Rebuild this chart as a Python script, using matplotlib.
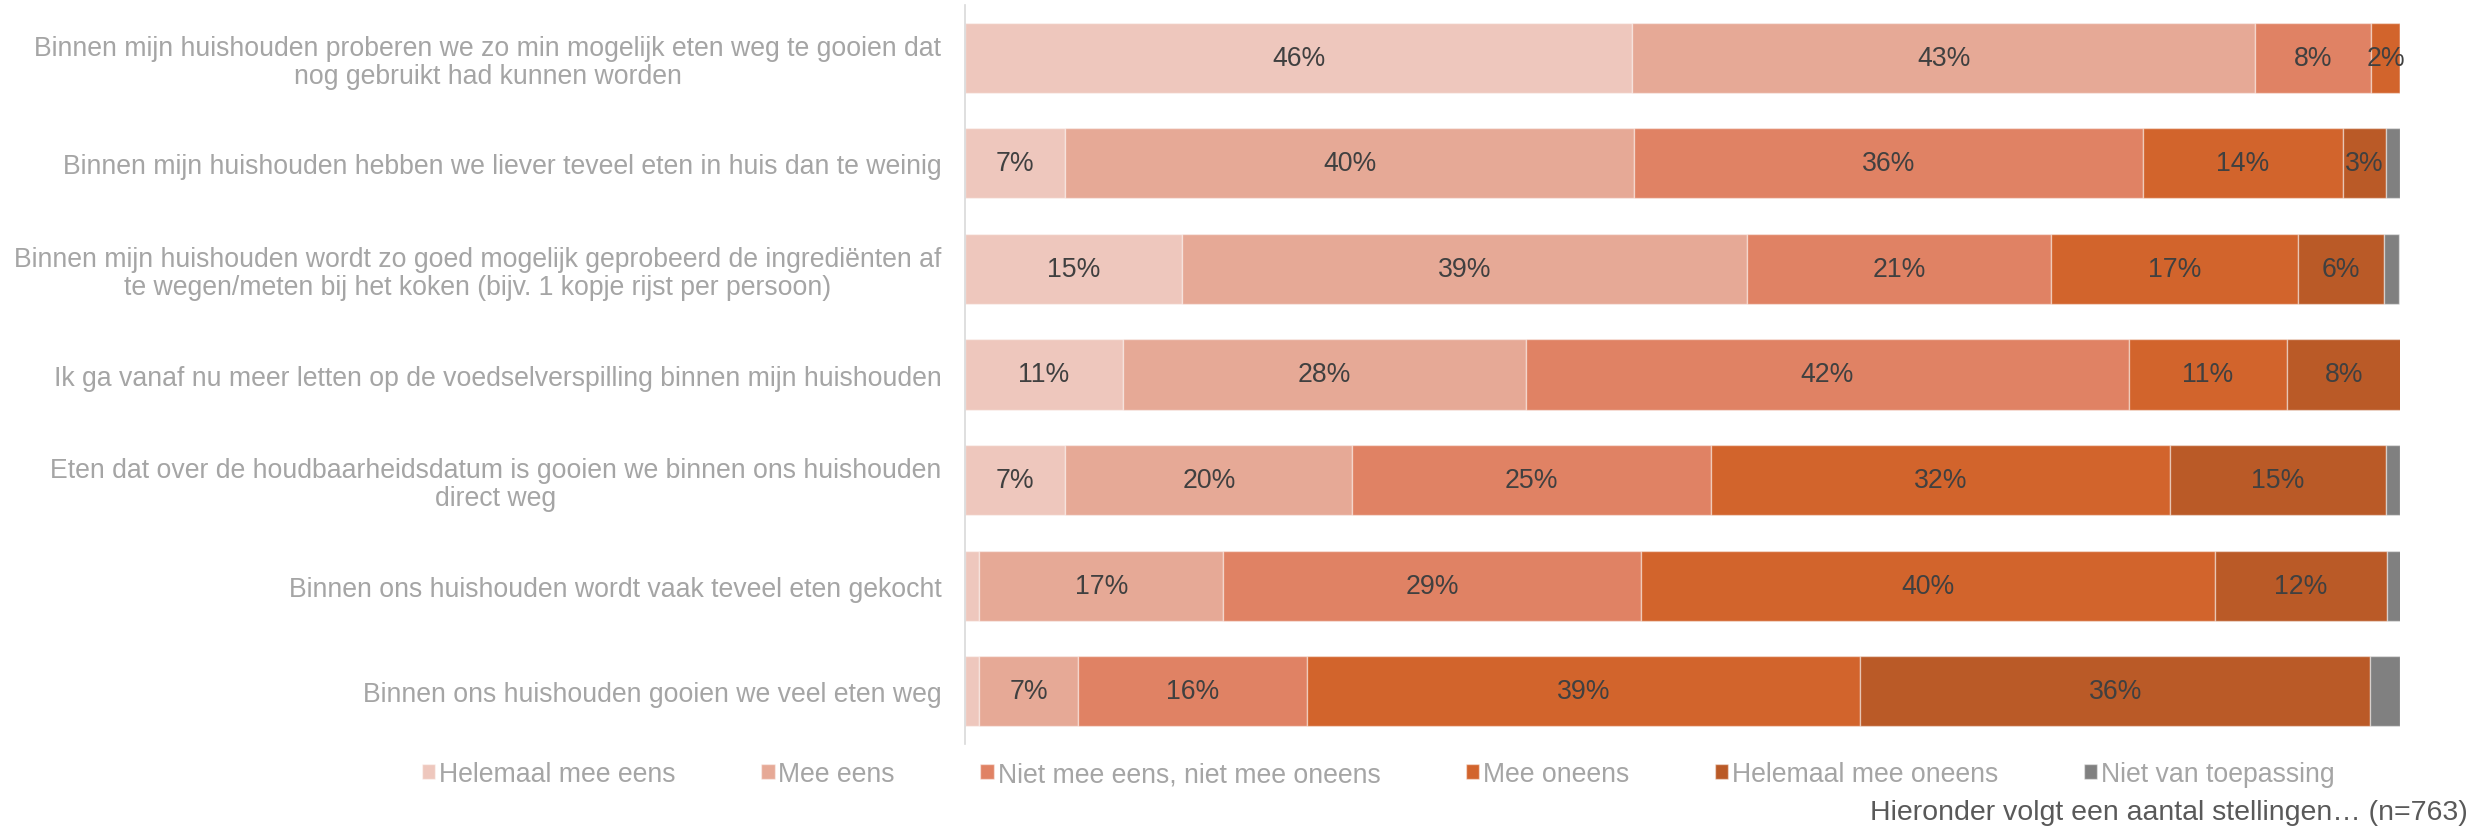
import numpy as np
import matplotlib
matplotlib.use("Agg")
import matplotlib.pyplot as plt

plt.rcParams["font.family"] = ["Liberation Sans", "DejaVu Sans"]

# stellingen (van boven naar beneden)
stellingen = [
    "Binnen mijn huishouden proberen we zo min mogelijk eten weg te gooien dat\nnog gebruikt had kunnen worden",
    "Binnen mijn huishouden hebben we liever teveel eten in huis dan te weinig",
    "Binnen mijn huishouden wordt zo goed mogelijk geprobeerd de ingrediënten af\nte wegen/meten bij het koken (bijv. 1 kopje rijst per persoon)",
    "Ik ga vanaf nu meer letten op de voedselverspilling binnen mijn huishouden",
    "Eten dat over de houdbaarheidsdatum is gooien we binnen ons huishouden\ndirect weg",
    "Binnen ons huishouden wordt vaak teveel eten gekocht",
    "Binnen ons huishouden gooien we veel eten weg",
]

# percentages per antwoordcategorie
helemaal_mee_eens = [46.5, 7.0, 15.1, 11.0, 7.0, 1.0, 1.0]
mee_eens = [43.4, 39.6, 39.4, 28.1, 20.0, 17.0, 6.9]
neutraal = [8.1, 35.5, 21.2, 42.0, 25.0, 29.1, 15.9]
mee_oneens = [2.0, 13.9, 17.2, 11.0, 32.0, 40.0, 38.6]
helemaal_mee_oneens = [0.0, 3.0, 6.0, 8.0, 15.0, 12.0, 35.5]
niet_van_toepassing = [0.0, 1.0, 1.0, 0.0, 1.0, 1.0, 2.1]

series = [
    ("Helemaal mee eens", helemaal_mee_eens, "#EEC7BD"),
    ("Mee eens", mee_eens, "#E6A996"),
    ("Niet mee eens, niet mee oneens", neutraal, "#E08264"),
    ("Mee oneens", mee_oneens, "#D2642C"),
    ("Helemaal mee oneens", helemaal_mee_oneens, "#BA5A27"),
    ("Niet van toepassing", niet_van_toepassing, "#808080"),
]

FS = 19.2

fig = plt.figure(figsize=(24.7, 8.28), dpi=100)
ax = fig.add_axes([965 / 2470, 1 - 745 / 828, 1435 / 2470, 739 / 828])

y = np.arange(len(stellingen))
left = np.zeros(len(stellingen))
for naam, vals, kleur in series:
    vals = np.array(vals)
    bars = ax.barh(y, vals, left=left, height=0.665, color=kleur, label=naam,
                   edgecolor=(1, 1, 1, 0.45), linewidth=1)
    if naam != "Niet van toepassing":
        for b, v in zip(bars, vals):
            if v >= 1.5:
                ax.text(b.get_x() + b.get_width() / 2, b.get_y() + b.get_height() / 2,
                        f"{v:.0f}%", ha="center", va="center", fontsize=FS, color="#404040")
    left += vals

ax.set_xlim(0, 100)
ax.set_ylim(len(stellingen) - 0.5, -0.5)
ax.set_xticks([])
ax.set_yticks(y)
ax.set_yticklabels(stellingen, fontsize=FS, color="#A5A5A5")
for t in ax.get_yticklabels():
    t.set_multialignment("center")
    t.set_linespacing(1.1)
ax.tick_params(axis="y", length=0, pad=17)
for s in ["top", "right", "bottom"]:
    ax.spines[s].set_visible(False)
ax.spines["left"].set_color("#D9D9D9")
ax.spines["left"].set_linewidth(1.2)

leg = fig.legend(loc="center left", bbox_to_anchor=(422 / 2470, 1 - 775 / 828), ncol=6,
                 frameon=False, fontsize=FS, handlelength=0.5, handleheight=0.5,
                 handletextpad=0.15, columnspacing=3.2, borderpad=0, borderaxespad=0)
for t in leg.get_texts():
    t.set_color("#A5A5A5")

fig.text(2468 / 2470, 1 - 813 / 828, "Hieronder volgt een aantal stellingen… (n=763)",
         ha="right", va="center", fontsize=20.5, color="#595959")

fig.savefig("out.png", dpi=100)
